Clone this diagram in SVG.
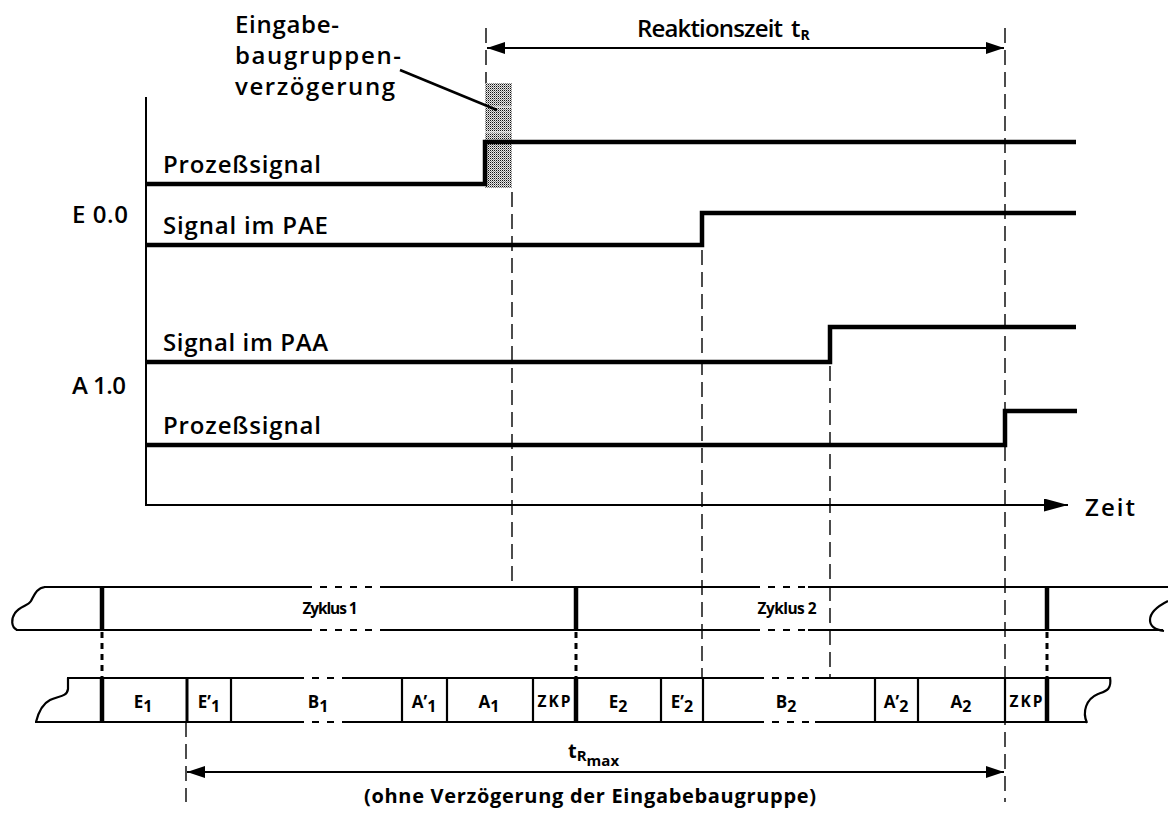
<svg xmlns="http://www.w3.org/2000/svg" width="1168" height="827" viewBox="0 0 1168 827">
  <style>
    .lbl { font-family: "Open Sans", "DejaVu Sans", sans-serif; font-size: 24px; font-weight: 600; fill: #000; }
    .cell { font-family: "Open Sans", "Liberation Sans", sans-serif; font-size: 17px; font-weight: 700; fill: #000; }
    .sub { font-size: 16px; }
    .small { font-family: "Open Sans", "Liberation Sans", sans-serif; font-size: 15.5px; font-weight: 700; fill: #000; }
    .sig { fill: none; stroke: #000; stroke-width: 4.5; stroke-linejoin: miter; }
    .ax { fill: none; stroke: #000; stroke-width: 2; }
    .bar { fill: none; stroke: #000; stroke-width: 2.2; }
    .bardash { fill: none; stroke: #000; stroke-width: 2.2; stroke-dasharray: 7 8; }
    .thick { stroke: #000; stroke-width: 4.5; }
    .mid { stroke: #000; stroke-width: 3; }
    .thin { stroke: #000; stroke-width: 2.2; }
    .guide { fill: none; stroke: #000; stroke-width: 1.4; stroke-dasharray: 15 7; }
    .dots { fill: none; stroke: #000; stroke-width: 3; stroke-dasharray: 6 5; }
    .dim { fill: none; stroke: #000; stroke-width: 2; }
    .dimtxt { font-family: "Open Sans", "Liberation Sans", sans-serif; font-weight: 700; fill: #000; }
  </style>
  <defs>
    <pattern id="stipple" width="2" height="2" patternUnits="userSpaceOnUse">
      <rect width="2" height="2" fill="#e6e6e6"/>
      <rect width="1" height="1" fill="#111"/>
      <rect x="1" y="1" width="1" height="1" fill="#8a8a8a"/>
    </pattern>
    <marker id="head" viewBox="0 0 18 12" refX="18" refY="6" markerWidth="18" markerHeight="12" markerUnits="userSpaceOnUse" orient="auto-start-reverse">
      <path d="M0,0 L18,6 L0,12 Z" fill="#000"/>
    </marker>
    <marker id="axhead" viewBox="0 0 24 13" refX="24" refY="6.5" markerWidth="24" markerHeight="13" markerUnits="userSpaceOnUse" orient="auto">
      <path d="M0,0 L24,6.5 L0,13 Z" fill="#000"/>
    </marker>
  </defs>

  <rect width="1168" height="827" fill="#fff"/>

  <!-- input module delay block -->
  <g id="delay-block">
    <rect x="485" y="83" width="27" height="105" fill="url(#stipple)"/>
    <line x1="485" y1="107" x2="512" y2="107" stroke="#fff" stroke-width="1"/>
    <line x1="485" y1="132" x2="512" y2="132" stroke="#fff" stroke-width="1"/>
  </g>

  <!-- timing axes -->
  <g id="axes">
    <line class="ax" x1="146" y1="97" x2="146" y2="506"/>
    <line class="ax" x1="145" y1="505" x2="1068" y2="505" marker-end="url(#axhead)"/>
    <text class="lbl" x="1085" y="516" textLength="50">Zeit</text>
  </g>

  <!-- signal traces -->
  <g id="sig-e-process">
    <path class="sig" d="M146,184 H485 V142 H1076"/>
    <text class="lbl" x="163" y="173" textLength="158">Prozeßsignal</text>
  </g>
  <g id="sig-pae">
    <path class="sig" d="M146,245 H702 V213 H1076"/>
    <text class="lbl" x="163" y="234" textLength="165">Signal im PAE</text>
  </g>
  <g id="sig-paa">
    <path class="sig" d="M146,362 H830 V327 H1076"/>
    <text class="lbl" x="163" y="351" textLength="165">Signal im PAA</text>
  </g>
  <g id="sig-a-process">
    <path class="sig" d="M146,445 H1005 V411 H1077"/>
    <text class="lbl" x="163" y="434" textLength="158">Prozeßsignal</text>
  </g>
  <g id="operand-labels">
    <text class="lbl" x="72" y="223" textLength="56">E 0.0</text>
    <text class="lbl" x="72" y="394" textLength="54">A 1.0</text>
  </g>

  <!-- delay annotation -->
  <g id="delay-note">
    <text class="lbl" x="235" y="33" textLength="104">Eingabe-</text>
    <text class="lbl" x="235" y="64" textLength="166">baugruppen-</text>
    <text class="lbl" x="235" y="95" textLength="160">verzögerung</text>
    <line x1="400" y1="70" x2="497" y2="110" stroke="#000" stroke-width="2.5"/>
  </g>

  <!-- cycle bar -->
  <g id="cycle-bar">
    <path class="bar" d="M45,587 C36,588 34,596 31,601 C28,606 20,606 15,613 C11,619 11,627 17,630"/>
    <path class="bar" d="M44,587 H305 M380,587 H753 M808,587 H1168"/>
    <path class="bardash" d="M305,587 H380 M753,587 H808"/>
    <path class="bar" d="M16,630 H305 M380,630 H753 M808,630 H1163"/>
    <path class="bardash" d="M305,630 H380 M753,630 H808"/>
    <path class="bar" d="M1168,601 C1160,605 1150,611 1150,620 C1150,627 1157,630 1164,631"/>
    <line class="thick" x1="102" y1="587" x2="102" y2="630"/>
    <line class="thick" x1="576" y1="587" x2="576" y2="630"/>
    <line class="thick" x1="1047" y1="587" x2="1047" y2="630"/>
    <text class="small" x="330" y="614" text-anchor="middle" textLength="55">Zyklus 1</text>
    <text class="small" x="787" y="614" text-anchor="middle" textLength="59">Zyklus 2</text>
  </g>

  <!-- program sections bar -->
  <g id="section-bar">
    <path class="bar" d="M68,678 L68,689 C67,697 58,696 50,700 C42,704 38,714 36,722"/>
    <path class="bar" d="M67,678 H297 M347,678 H757 M815,678 H1110"/>
    <path class="bardash" d="M297,678 H347 M757,678 H815"/>
    <path class="bar" d="M35,722 H297 M347,722 H757 M815,722 H1087"/>
    <path class="bardash" d="M297,722 H347 M757,722 H815"/>
    <path class="bar" d="M1110,677 C1112,690 1106,691 1098,694 C1086,699 1082,712 1087,723"/>
    <line class="thick" x1="102" y1="678" x2="102" y2="722"/>
    <line class="mid" x1="187" y1="678" x2="187" y2="722"/>
    <line class="thin" x1="231" y1="678" x2="231" y2="722"/>
    <line class="thin" x1="402" y1="678" x2="402" y2="722"/>
    <line class="thin" x1="447" y1="678" x2="447" y2="722"/>
    <line class="thin" x1="533" y1="678" x2="533" y2="722"/>
    <line class="thick" x1="576" y1="678" x2="576" y2="722"/>
    <line class="thin" x1="661" y1="678" x2="661" y2="722"/>
    <line class="thin" x1="703" y1="678" x2="703" y2="722"/>
    <line class="thin" x1="875" y1="678" x2="875" y2="722"/>
    <line class="thin" x1="918" y1="678" x2="918" y2="722"/>
    <line class="thin" x1="1005" y1="678" x2="1005" y2="722"/>
    <line class="thick" x1="1047" y1="678" x2="1047" y2="722"/>
  </g>
  <g id="section-labels">
    <text class="cell" x="143" y="708" text-anchor="middle">E<tspan class="sub" dy="4">1</tspan></text>
    <text class="cell" x="209" y="708" text-anchor="middle">E’<tspan class="sub" dy="4">1</tspan></text>
    <text class="cell" x="318" y="708" text-anchor="middle">B<tspan class="sub" dy="4">1</tspan></text>
    <text class="cell" x="424" y="708" text-anchor="middle">A’<tspan class="sub" dy="4">1</tspan></text>
    <text class="cell" x="489" y="708" text-anchor="middle">A<tspan class="sub" dy="4">1</tspan></text>
    <text class="small" x="554" y="707" text-anchor="middle" textLength="33">ZKP</text>
    <text class="cell" x="618" y="708" text-anchor="middle">E<tspan class="sub" dy="4">2</tspan></text>
    <text class="cell" x="682" y="708" text-anchor="middle">E’<tspan class="sub" dy="4">2</tspan></text>
    <text class="cell" x="786" y="708" text-anchor="middle">B<tspan class="sub" dy="4">2</tspan></text>
    <text class="cell" x="896" y="708" text-anchor="middle">A’<tspan class="sub" dy="4">2</tspan></text>
    <text class="cell" x="961" y="708" text-anchor="middle">A<tspan class="sub" dy="4">2</tspan></text>
    <text class="small" x="1026" y="707" text-anchor="middle" textLength="33">ZKP</text>
  </g>

  <!-- guide lines and dimension arrows -->
  <g id="connectors">
    <line class="guide" x1="486" y1="28" x2="486" y2="83"/>
    <line class="guide" x1="512" y1="192" x2="512" y2="587"/>
    <line class="guide" x1="702" y1="250" x2="702" y2="678"/>
    <line class="guide" x1="830" y1="366" x2="830" y2="678"/>
    <line class="guide" x1="1005" y1="28" x2="1005" y2="802"/>
    <line class="guide" x1="186" y1="722" x2="186" y2="802"/>
    <line class="dots" x1="102" y1="632" x2="102" y2="677"/>
    <line class="dots" x1="576" y1="632" x2="576" y2="677"/>
    <line class="dots" x1="1047" y1="632" x2="1047" y2="677"/>
    <line class="dim" x1="487" y1="48" x2="1004" y2="48" marker-start="url(#head)" marker-end="url(#head)"/>
    <line class="dim" x1="187" y1="772" x2="1004" y2="772" marker-start="url(#head)" marker-end="url(#head)"/>
  </g>

  <g id="dimension-labels">
    <text class="lbl" x="637" y="37" textLength="146">Reaktionszeit</text>
    <text class="lbl" x="791" y="37">t<tspan font-size="14" font-weight="700" dy="3">R</tspan></text>
    <text class="dimtxt" font-size="20" x="568" y="758">t<tspan font-size="15" dy="3">R</tspan><tspan font-size="15" dy="5">max</tspan></text>
    <text class="dimtxt" font-size="20" x="590" y="803" text-anchor="middle" textLength="452">(ohne Verzögerung der Eingabebaugruppe)</text>
  </g>
</svg>
